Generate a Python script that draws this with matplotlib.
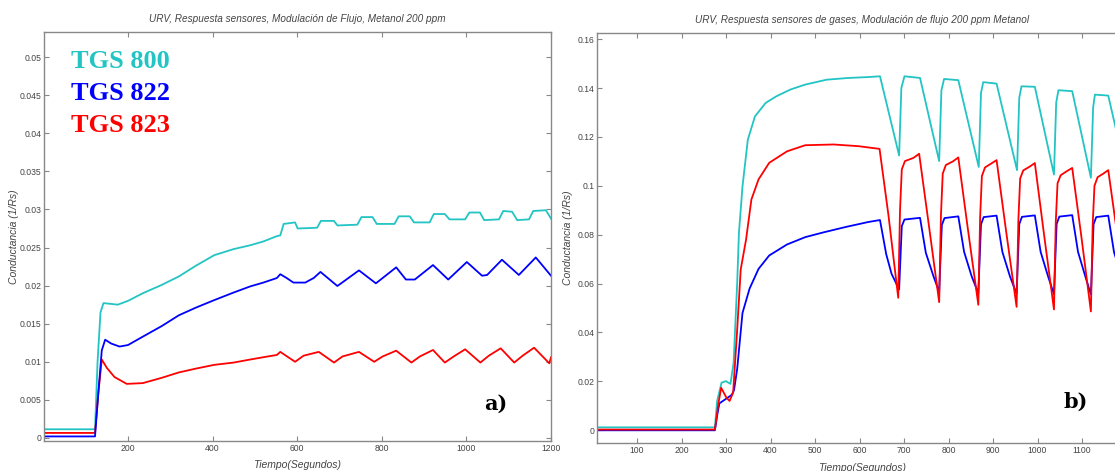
import matplotlib
matplotlib.use("Agg")
import matplotlib.pyplot as plt

# ---------------- data: panel a) ----------------
a_cyan_x = [0, 122, 128, 135, 142, 160, 176, 200, 235, 280, 320, 360, 404, 450, 489, 520, 552, 560, 568, 595, 601,
            647, 656, 687, 695, 742, 752, 778, 788, 830, 840, 866, 876, 913, 923, 949, 960, 997, 1007, 1032, 1042,
            1077, 1087, 1108, 1120, 1148, 1158, 1188, 1200]
a_cyan_y = [0.00114, 0.00114, 0.0100, 0.0165, 0.0177, 0.0176, 0.0175, 0.0180, 0.0190, 0.0201, 0.0212, 0.0226,
            0.0240, 0.0248, 0.0253, 0.0258, 0.0265, 0.0266, 0.0281, 0.0283, 0.0275,
            0.0276, 0.0285, 0.0285, 0.0279, 0.0280, 0.0290, 0.0290, 0.0281, 0.0281, 0.0291, 0.0291, 0.0283,
            0.0283, 0.0294, 0.0294, 0.0287, 0.0287, 0.0296, 0.0296, 0.0286,
            0.0287, 0.0298, 0.0297, 0.0286, 0.0287, 0.0298, 0.0299, 0.0288]

a_blue_x = [0, 122, 130, 138, 146, 160, 180, 200, 235, 280, 320, 360, 404, 450, 489, 520, 552, 560, 575, 591, 619,
            639, 655, 695, 746, 786, 834, 857, 878, 921, 957, 1001, 1037, 1049, 1084, 1124, 1164, 1200]
a_blue_y = [0.0002, 0.0002, 0.0060, 0.0115, 0.0129, 0.0124, 0.0120, 0.0122, 0.0133, 0.0147, 0.0161, 0.0171,
            0.0181, 0.0191, 0.0199, 0.0204, 0.0210, 0.0215, 0.0210, 0.0204, 0.0204,
            0.0210, 0.0218, 0.01995, 0.0220, 0.0203, 0.0224, 0.0208, 0.0208, 0.0227, 0.0208, 0.0231, 0.0213,
            0.0214, 0.0234, 0.0214, 0.0237, 0.0213]

a_red_x = [0, 122, 130, 138, 150, 168, 197, 235, 280, 320, 360, 404, 450, 489, 520, 552, 560, 595, 615, 651, 687,
           707, 746, 782, 802, 834, 870, 890, 921, 949, 970, 997, 1033, 1053, 1081, 1113, 1133, 1160, 1196, 1200]
a_red_y = [0.00066, 0.00066, 0.0060, 0.0103, 0.0092, 0.0080, 0.0071, 0.0072, 0.0079, 0.0086, 0.0091, 0.0096,
           0.0099, 0.0103, 0.0106, 0.0109, 0.0113, 0.0100, 0.0108, 0.0113, 0.0099,
           0.0107, 0.0113, 0.0100, 0.0107, 0.01146, 0.0099, 0.0107, 0.01155, 0.0099, 0.0107, 0.01164, 0.0099,
           0.0108, 0.01177, 0.0099, 0.0108, 0.01185, 0.0098, 0.0106]

# ---------------- data: panel b) ----------------
b_cyan_x = [10, 275, 280, 290, 300, 305, 310, 317, 325, 329, 337, 349, 365, 389, 413, 445, 478, 526, 574, 622, 646,
            689, 694, 701, 736, 779, 784, 790, 822, 868, 873, 878, 908, 954, 959, 964, 994, 1037, 1042, 1047,
            1078, 1120, 1125, 1129, 1159, 1203]
b_cyan_y = [0.0012, 0.0012, 0.0120, 0.0195, 0.0201, 0.0195, 0.0190, 0.0277, 0.0600, 0.0808, 0.0998, 0.1189,
            0.1284, 0.1339, 0.1366, 0.1394, 0.1414, 0.1434, 0.1441, 0.1445, 0.1448,
            0.1124, 0.1400, 0.1448, 0.1441, 0.1101, 0.1390, 0.1437, 0.1432, 0.1077, 0.1380, 0.1424, 0.1418,
            0.1064, 0.1360, 0.1407, 0.1405, 0.1046, 0.1340, 0.1391, 0.1387, 0.1033, 0.1320, 0.1373, 0.1369, 0.1020]

b_red_x = [10, 275, 282, 289, 296, 301, 308, 316, 325, 333, 345, 357, 373, 397, 437, 478, 542, 598, 645, 665, 687,
           691, 695, 702, 721, 734, 755, 779, 783, 787, 794, 810, 822, 843, 867, 871, 875, 882, 895, 908, 929, 953,
           957, 961, 968, 982, 994, 1014, 1037, 1041, 1045, 1052, 1066, 1078, 1098, 1120, 1124, 1128, 1135, 1148,
           1159, 1180, 1203]
b_red_y = [0.0003, 0.0003, 0.0100, 0.0174, 0.0150, 0.0133, 0.0120, 0.0155, 0.0410, 0.0658, 0.0780, 0.0944,
           0.1026, 0.1094, 0.1141, 0.1166, 0.1169, 0.1162, 0.1151, 0.0880, 0.0542,
           0.0900, 0.1067, 0.1101, 0.1114, 0.1131, 0.0850, 0.0524,
           0.0880, 0.1050, 0.1085, 0.1100, 0.1116, 0.0830, 0.0513,
           0.0870, 0.1040, 0.1075, 0.1090, 0.1105, 0.0820, 0.0505,
           0.0860, 0.1030, 0.1063, 0.1078, 0.1093, 0.0810, 0.0494,
           0.0850, 0.1010, 0.1043, 0.1060, 0.1073, 0.0800, 0.0486,
           0.0840, 0.1000, 0.1035, 0.1050, 0.1064, 0.0790, 0.0480]

b_blue_x = [10, 275, 280, 285, 301, 313, 318, 325, 337, 353, 373, 397, 437, 478, 520, 570, 620, 646, 660, 672, 689,
            695, 701, 736, 749, 766, 779, 785, 791, 822, 835, 852, 867, 873, 879, 908, 921, 938, 953, 959, 965,
            994, 1007, 1024, 1037, 1043, 1049, 1078, 1091, 1108, 1120, 1126, 1132, 1159, 1172, 1190, 1203]
b_blue_y = [0.0000, 0.0000, 0.0060, 0.0110, 0.0130, 0.0145, 0.0165, 0.0250, 0.0480, 0.0580, 0.0660, 0.0715,
            0.0760, 0.0790, 0.0810, 0.0832, 0.0852, 0.0860, 0.0720, 0.0640, 0.0576,
            0.0835, 0.0862, 0.0869, 0.0726, 0.0631, 0.0566,
            0.0840, 0.0868, 0.0875, 0.0730, 0.0630, 0.0560,
            0.0842, 0.0872, 0.0878, 0.0730, 0.0630, 0.0558,
            0.0843, 0.0873, 0.0879, 0.0730, 0.0628, 0.0556,
            0.0844, 0.0874, 0.0880, 0.0730, 0.0626, 0.0555,
            0.0843, 0.0872, 0.0878, 0.0728, 0.0625, 0.0555]

a_yticks = [0, 0.005, 0.01, 0.015, 0.02, 0.025, 0.03, 0.035, 0.04, 0.045, 0.05]
a_ytick_labels = ["0", "0.005", "0.01", "0.015", "0.02", "0.025", "0.03", "0.035", "0.04", "0.045", "0.05"]
a_xticks = [200, 400, 600, 800, 1000, 1200]
b_yticks = [0, 0.02, 0.04, 0.06, 0.08, 0.1, 0.12, 0.14, 0.16]
b_ytick_labels = ["0", "0.02", "0.04", "0.06", "0.08", "0.1", "0.12", "0.14", "0.16"]
b_xticks = [100, 200, 300, 400, 500, 600, 700, 800, 900, 1000, 1100]

legend_names = ["TGS 800", "TGS 822", "TGS 823"]

CYAN = "#22C4C4"
BLUE = "#0000FF"
RED = "#FF0000"
GRAY = "#888888"

W, H = 1115, 471
fig = plt.figure(figsize=(W / 100, H / 100), dpi=100)


def px_axes(l, r, t, b):
    return [l / W, (H - b) / H, (r - l) / W, (b - t) / H]


ax1 = fig.add_axes(px_axes(44, 551, 32, 441))
ax2 = fig.add_axes(px_axes(597, 1126.5, 33, 443))

lw = 1.3
ax1.plot(a_cyan_x, a_cyan_y, color=CYAN, lw=lw)
ax1.plot(a_red_x, a_red_y, color=RED, lw=lw)
ax1.plot(a_blue_x, a_blue_y, color=BLUE, lw=lw)

ax2.plot(b_cyan_x, b_cyan_y, color=CYAN, lw=lw)
ax2.plot(b_blue_x, b_blue_y, color=BLUE, lw=lw)
ax2.plot(b_red_x, b_red_y, color=RED, lw=lw)

ax1.set_xlim(1.4, 1200)
ax1.set_ylim(-0.0004, 0.0533)
ax1.set_xticks(a_xticks)
ax1.set_yticks(a_yticks)
ax1.set_yticklabels(a_ytick_labels)

ax2.set_xlim(10, 1200)
ax2.set_ylim(-0.0052, 0.1625)
ax2.set_xticks(b_xticks)
ax2.set_yticks(b_yticks)
ax2.set_yticklabels(b_ytick_labels)

for ax in (ax1, ax2):
    for s in ax.spines.values():
        s.set_color(GRAY)
        s.set_linewidth(1.0)
    ax.tick_params(direction="in", top=True, right=True, length=3.5, width=0.8, color=GRAY,
                   labelsize=6.2, labelcolor="#444444", pad=2)
    for lab in ax.get_xticklabels() + ax.get_yticklabels():
        lab.set_family("Liberation Sans")
    ax.set_xlabel("Tiempo(Segundos)", family="Liberation Sans", style="italic", size=7.5, color="#444444")
    ax.set_ylabel("Conductancia (1/Rs)", family="Liberation Sans", style="italic", size=7.5, color="#444444")

ax1.yaxis.set_label_coords(-0.050, 0.5)
ax2.yaxis.set_label_coords(-0.046, 0.5)
ax1.xaxis.set_label_coords(0.5, -0.046)
ax2.xaxis.set_label_coords(0.5, -0.049)

ax1.set_title("URV, Respuesta sensores, Modulación de Flujo, Metanol 200 ppm",
              family="Liberation Sans", style="italic", size=7.2, color="#444444", pad=7)
ax2.set_title("URV, Respuesta sensores de gases, Modulación de flujo 200 ppm Metanol",
              family="Liberation Sans", style="italic", size=7.2, color="#444444", pad=7)

for name, col, yc in zip(legend_names, [CYAN, BLUE, RED], [62, 93, 125]):
    fig.text(71 / W, (H - yc) / H, name, color=col, family="Liberation Serif", weight="bold",
             size=19, ha="left", va="center")

fig.text(484 / W, (H - 404) / H, "a)", color="black", family="DejaVu Serif", weight="bold",
         size=15, ha="left", va="center")
fig.text(1063 / W, (H - 402) / H, "b)", color="black", family="DejaVu Serif", weight="bold",
         size=15, ha="left", va="center")

fig.savefig("out.png", dpi=100)
